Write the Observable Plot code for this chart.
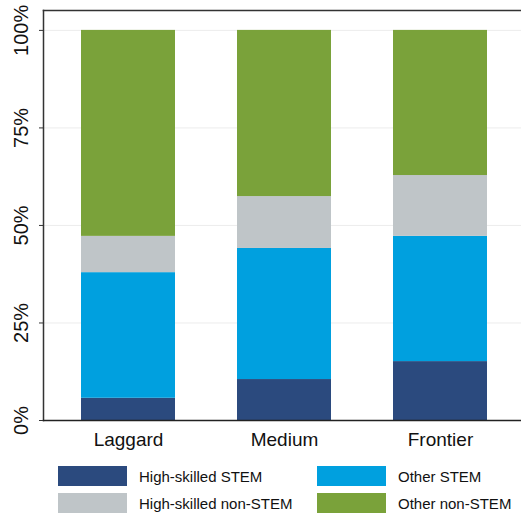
<!DOCTYPE html>
<html>
<head>
<meta charset="utf-8">
<script src="https://cdn.jsdelivr.net/npm/d3@7"></script>
<script src="https://cdn.jsdelivr.net/npm/@observablehq/plot@0.6"></script>
<style>
  body { margin: 0; background: #fff; font-family: "Liberation Sans", Arial, sans-serif; }
  #chart { width: 521px; }
  .legend { display: grid; grid-template-columns: 259px 200px; row-gap: 7px; margin: 11px 0 0 58px; font-size: 15px; color: #111; }
  .item { display: flex; align-items: center; height: 20px; }
  .sw { width: 69px; height: 20px; margin-right: 12px; flex: none; }
</style>
</head>
<body>
<div id="chart"></div>
<script>
const categories = ["Laggard", "Medium", "Frontier"];
const groups = ["High-skilled STEM", "Other STEM", "High-skilled non-STEM", "Other non-STEM"];
const highSkilledStem = [0.057, 0.105, 0.151];
const otherStem = [0.322, 0.336, 0.321];
const highSkilledNonStem = [0.093, 0.133, 0.156];
const otherNonStem = [0.528, 0.426, 0.372];
const colors = ["#2b4a7e", "#00a0df", "#bfc5c8", "#7aa23a"];
const yTicks = [0, 0.25, 0.5, 0.75, 1];

const series = [highSkilledStem, otherStem, highSkilledNonStem, otherNonStem];
const data = [];
series.forEach((vals, i) => {
  vals.forEach((v, j) => data.push({cat: categories[j], group: groups[i], value: v}));
});

const chart = Plot.plot({
  width: 521,
  height: 455,
  marginLeft: 43,
  marginRight: 0,
  marginTop: 10,
  marginBottom: 35,
  style: {fontFamily: "'Liberation Sans', Arial, sans-serif", color: "#111"},
  x: {domain: categories, padding: 0.4, paddingOuter: 0.23, align: 0.53},
  y: {domain: [0, 1.051]},
  color: {domain: groups, range: colors},
  marks: [
    Plot.gridY(yTicks.slice(1), {stroke: "#ececec", strokeOpacity: 1}),
    Plot.barY(data, {x: "cat", y: "value", fill: "group", order: groups}),
    Plot.frame({anchor: "top", stroke: "#333", strokeWidth: 1.5}),
    Plot.frame({anchor: "left", stroke: "#333", strokeWidth: 1.5}),
    Plot.frame({anchor: "bottom", stroke: "#222", strokeWidth: 1.5}),
    Plot.axisY({ticks: yTicks, tickFormat: d => Math.round(d * 100) + "%", tickRotate: -90,
      tickSize: 4, tickPadding: 12, fontSize: 20, label: null, stroke: "#333"}),
    Plot.axisX({tickSize: 0, tickPadding: 12, fontSize: 19, label: null})
  ]
});
document.getElementById("chart").append(chart);

const legend = d3.select("body").append("div").attr("class", "legend");
const legendOrder = [0, 1, 2, 3];
legendOrder.forEach(i => {
  const item = legend.append("div").attr("class", "item");
  item.append("div").attr("class", "sw").style("background", colors[i]);
  item.append("span").text(groups[i]);
});
</script>
</body>
</html>
